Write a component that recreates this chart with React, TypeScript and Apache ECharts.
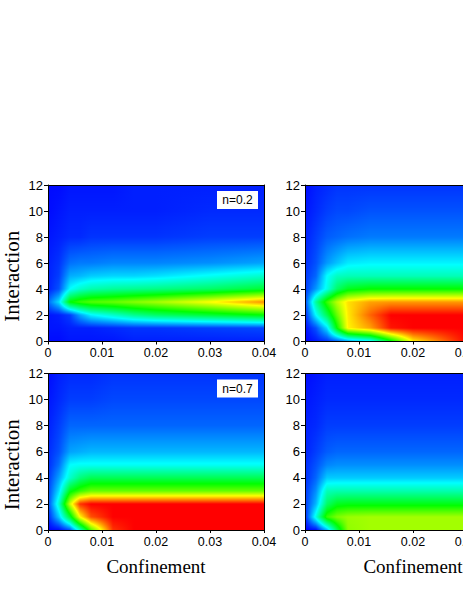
import React, { useEffect, useRef } from "react";
import * as echarts from "echarts";

const confinement = [0, 0.002, 0.004, 0.006, 0.008, 0.012, 0.016, 0.02, 0.03, 0.04];
const interaction = [0, 1, 2, 3, 4, 5, 6, 8, 10, 12];

// rows follow `interaction`, columns follow `confinement`; 0 blue, 25 cyan, 50 green, 75 yellow, 100 red
const panelA = [
  [1, 1, 2, 2, 2, 2, 3, 3, 3, 3],
  [2, 2, 3, 3, 3, 4, 5, 5, 6, 7],
  [2, 3, 6, 16, 24, 30, 36, 40, 45, 50],
  [10, 22, 50, 55, 58, 60, 63, 66, 75, 86],
  [3, 8, 25, 30, 33, 35, 36, 37, 40, 45],
  [3, 6, 17, 18, 20, 21, 21, 22, 26, 30],
  [3, 5, 11, 12, 12, 13, 13, 13, 14, 16],
  [2, 3, 4, 4, 5, 5, 5, 5, 6, 6],
  [1, 2, 3, 3, 3, 3, 3, 3, 4, 4],
  [1, 1, 2, 2, 2, 2, 3, 3, 3, 3],
];
const panelB = [
  [0, 2, 4, 7, 12, 20, 45, 75, 100, 100],
  [1, 8, 22, 50, 76, 84, 98, 100, 100, 100],
  [3, 25, 42, 60, 77, 90, 100, 100, 100, 100],
  [6, 35, 55, 68, 78, 84, 85, 85, 85, 85],
  [5, 15, 27, 40, 47, 50, 50, 50, 50, 50],
  [5, 10, 25, 31, 32, 32, 32, 32, 32, 32],
  [4, 8, 15, 19, 23, 24, 24, 24, 24, 24],
  [3, 6, 9, 10, 11, 12, 12, 12, 12, 12],
  [2, 4, 6, 7, 7, 8, 8, 8, 8, 8],
  [1, 3, 4, 5, 5, 5, 5, 5, 5, 5],
];
const panelC = [
  [0, 1, 8, 30, 58, 95, 100, 100, 100, 100],
  [3, 20, 45, 75, 92, 100, 100, 100, 100, 100],
  [6, 30, 70, 95, 100, 100, 100, 100, 100, 100],
  [6, 22, 48, 55, 60, 60, 60, 60, 60, 60],
  [5, 16, 30, 38, 42, 42, 42, 42, 42, 42],
  [4, 11, 25, 26, 26, 26, 26, 26, 26, 26],
  [4, 8, 16, 17, 18, 18, 18, 18, 18, 18],
  [3, 6, 10, 10, 10, 10, 10, 10, 10, 10],
  [2, 4, 6, 6, 6, 7, 7, 7, 7, 7],
  [1, 3, 4, 4, 4, 5, 5, 5, 5, 5],
];
const panelD = [
  [0, 1, 18, 42, 64, 66, 66, 66, 66, 66],
  [3, 28, 55, 62, 65, 66, 66, 66, 66, 66],
  [5, 18, 40, 47, 48, 48, 48, 48, 48, 48],
  [5, 14, 32, 33, 33, 33, 33, 33, 33, 33],
  [4, 10, 20, 20, 20, 20, 20, 20, 20, 20],
  [4, 8, 13, 14, 14, 14, 14, 14, 14, 14],
  [3, 6, 9, 10, 10, 10, 10, 10, 10, 10],
  [3, 4, 6, 6, 6, 6, 6, 6, 6, 6],
  [2, 3, 4, 4, 4, 4, 4, 4, 4, 4],
  [1, 2, 3, 3, 3, 3, 3, 3, 3, 3],
];
const panels = [panelA, panelB, panelC, panelD];
const panelLabels = ["n=0.2", "", "n=0.7", ""];

const colorKeys: [number, number[]][] = [
  [0, [0, 0, 255]],
  [25, [0, 255, 255]],
  [50, [0, 255, 0]],
  [75, [255, 255, 0]],
  [100, [255, 0, 0]],
];

function colorOf(v: number) {
  for (let i = 1; i < colorKeys.length; i++) {
    const [v1, c1] = colorKeys[i];
    const [v0, c0] = colorKeys[i - 1];
    if (v <= v1) {
      const t = Math.max(0, (v - v0) / (v1 - v0));
      return `rgb(${c0.map((c, k) => Math.round(c + (c1[k] - c) * t)).join(",")})`;
    }
  }
  return "rgb(255,0,0)";
}

function stripFill(vl: number, vr: number) {
  const stops = [{ offset: 0, color: colorOf(vl) }];
  if (vl !== vr) {
    const keys = colorKeys.map((k) => k[0]).filter((k) => k > Math.min(vl, vr) && k < Math.max(vl, vr));
    if (vr < vl) keys.reverse();
    keys.forEach((k) => stops.push({ offset: (k - vl) / (vr - vl), color: colorOf(k) }));
  }
  stops.push({ offset: 1, color: colorOf(vr) });
  return new echarts.graphic.LinearGradient(0, 0, 1, 0, stops);
}

const renderCell = (_p: any, api: any) => {
  const x0 = api.value(0), y0 = api.value(1), x1 = api.value(2), y1 = api.value(3);
  const v00 = api.value(4), v10 = api.value(5), v01 = api.value(6), v11 = api.value(7);
  const a = api.coord([x0, y0]);
  const b = api.coord([x1, y1]);
  const left = Math.round(a[0]), right = Math.round(b[0]);
  const bottom = Math.round(a[1]), top = Math.round(b[1]);
  const children: any[] = [];
  for (let py = top; py < bottom; py++) {
    const t = (bottom - py - 0.5) / (bottom - top);
    const vl = v00 + (v01 - v00) * t;
    const vr = v10 + (v11 - v10) * t;
    children.push({
      type: "rect",
      shape: { x: left, y: py, width: right - left, height: 1 },
      style: { fill: stripFill(vl, vr) },
      silent: true,
    });
  }
  return { type: "group", children };
};

function cellsOf(table: number[][]) {
  const out: number[][] = [];
  for (let j = 0; j < interaction.length - 1; j++) {
    for (let i = 0; i < confinement.length - 1; i++) {
      out.push([
        confinement[i], interaction[j], confinement[i + 1], interaction[j + 1],
        table[j][i], table[j][i + 1], table[j + 1][i], table[j + 1][i + 1],
      ]);
    }
  }
  return out;
}

const serif = "'Liberation Serif', 'Times New Roman', serif";
const sans = "'Liberation Sans', Arial, sans-serif";
const gridPos = [
  { left: 48, top: 185 },
  { left: 305, top: 185 },
  { left: 48, top: 373.5 },
  { left: 305, top: 373.5 },
];
const plotW = 216;
const plotH = 156.5;

export default function App() {
  const ref = useRef<HTMLDivElement>(null);
  useEffect(() => {
    document.body.style.margin = "0";
    const chart = echarts.init(ref.current!, null, { renderer: "svg" });
    const lineStyle = { color: "#000", width: 1 };
    const xAxes: any[] = [];
    const yAxes: any[] = [];
    gridPos.forEach((_, g) => {
      const bottomRow = g >= 2;
      xAxes.push({
        type: "value", gridIndex: g, min: 0, max: 0.04, interval: 0.01, position: "bottom", z: 10,
        name: bottomRow ? "Confinement" : "", nameLocation: "middle", nameGap: 27,
        nameTextStyle: { fontFamily: serif, fontSize: 19, color: "#000" },
        axisLine: { show: true, onZero: false, lineStyle },
        axisTick: { show: true, length: 3, lineStyle },
        minorTick: { show: false },
        splitLine: { show: false },
        axisLabel: {
          margin: 5, fontFamily: sans, fontSize: 12.5, color: "#000", hideOverlap: false,
          showMinLabel: true, showMaxLabel: true,
          formatter: (v: number) => String(Number(v.toFixed(2))),
        },
      });
      xAxes.push({
        type: "value", gridIndex: g, min: 0, max: 0.04, position: "top", z: 10,
        axisLine: { show: true, onZero: false, lineStyle },
        axisTick: { show: false }, axisLabel: { show: false }, splitLine: { show: false },
      });
      const leftCol = g % 2 === 0;
      yAxes.push({
        type: "value", gridIndex: g, min: 0, max: 12, interval: 2, position: "left", z: 10,
        name: leftCol ? "Interaction" : "", nameLocation: "middle", nameGap: 26, nameRotate: 90,
        nameTextStyle: { fontFamily: serif, fontSize: 21, color: "#000", padding: [0, 26, 0, 0] },
        axisLine: { show: true, onZero: false, lineStyle },
        axisTick: { show: true, length: 4, lineStyle },
        minorTick: { show: false },
        splitLine: { show: false },
        axisLabel: { margin: 5, fontFamily: sans, fontSize: 13, color: "#000", showMinLabel: true, showMaxLabel: true },
      });
      yAxes.push({
        type: "value", gridIndex: g, min: 0, max: 12, position: "right", z: 10,
        axisLine: { show: true, onZero: false, lineStyle },
        axisTick: { show: false }, axisLabel: { show: false }, splitLine: { show: false },
      });
    });
    const graphic: any[] = [];
    panelLabels.forEach((label, g) => {
      if (!label) return;
      const p = gridPos[g];
      const bx = p.left + 169;
      const by = p.top + 6;
      graphic.push({ type: "rect", z: 20, x: bx, y: by, shape: { x: 0, y: 0, width: 41, height: 18 }, style: { fill: "#fff" } });
      graphic.push({
        type: "text", z: 21, x: bx + 20.5, y: by + 9,
        style: { text: label, fontFamily: sans, fontSize: 12, fill: "#000", align: "center", verticalAlign: "middle" },
      });
    });
    chart.setOption({
      animation: false,
      grid: gridPos.map((p) => ({ left: p.left, top: p.top, width: plotW, height: plotH, containLabel: false, outerBoundsMode: "none" })),
      xAxis: xAxes,
      yAxis: yAxes,
      graphic,
      series: panels.map((table, g) => ({
        type: "custom",
        xAxisIndex: g * 2,
        yAxisIndex: g * 2,
        coordinateSystem: "cartesian2d",
        renderItem: renderCell,
        encode: { x: [0, 2], y: [1, 3] },
        data: cellsOf(table),
        silent: true,
        clip: true,
        z: 2,
      })),
    });
    return () => chart.dispose();
  }, []);
  return <div ref={ref} style={{ width: 463, height: 599, overflow: "hidden" }} />;
}
